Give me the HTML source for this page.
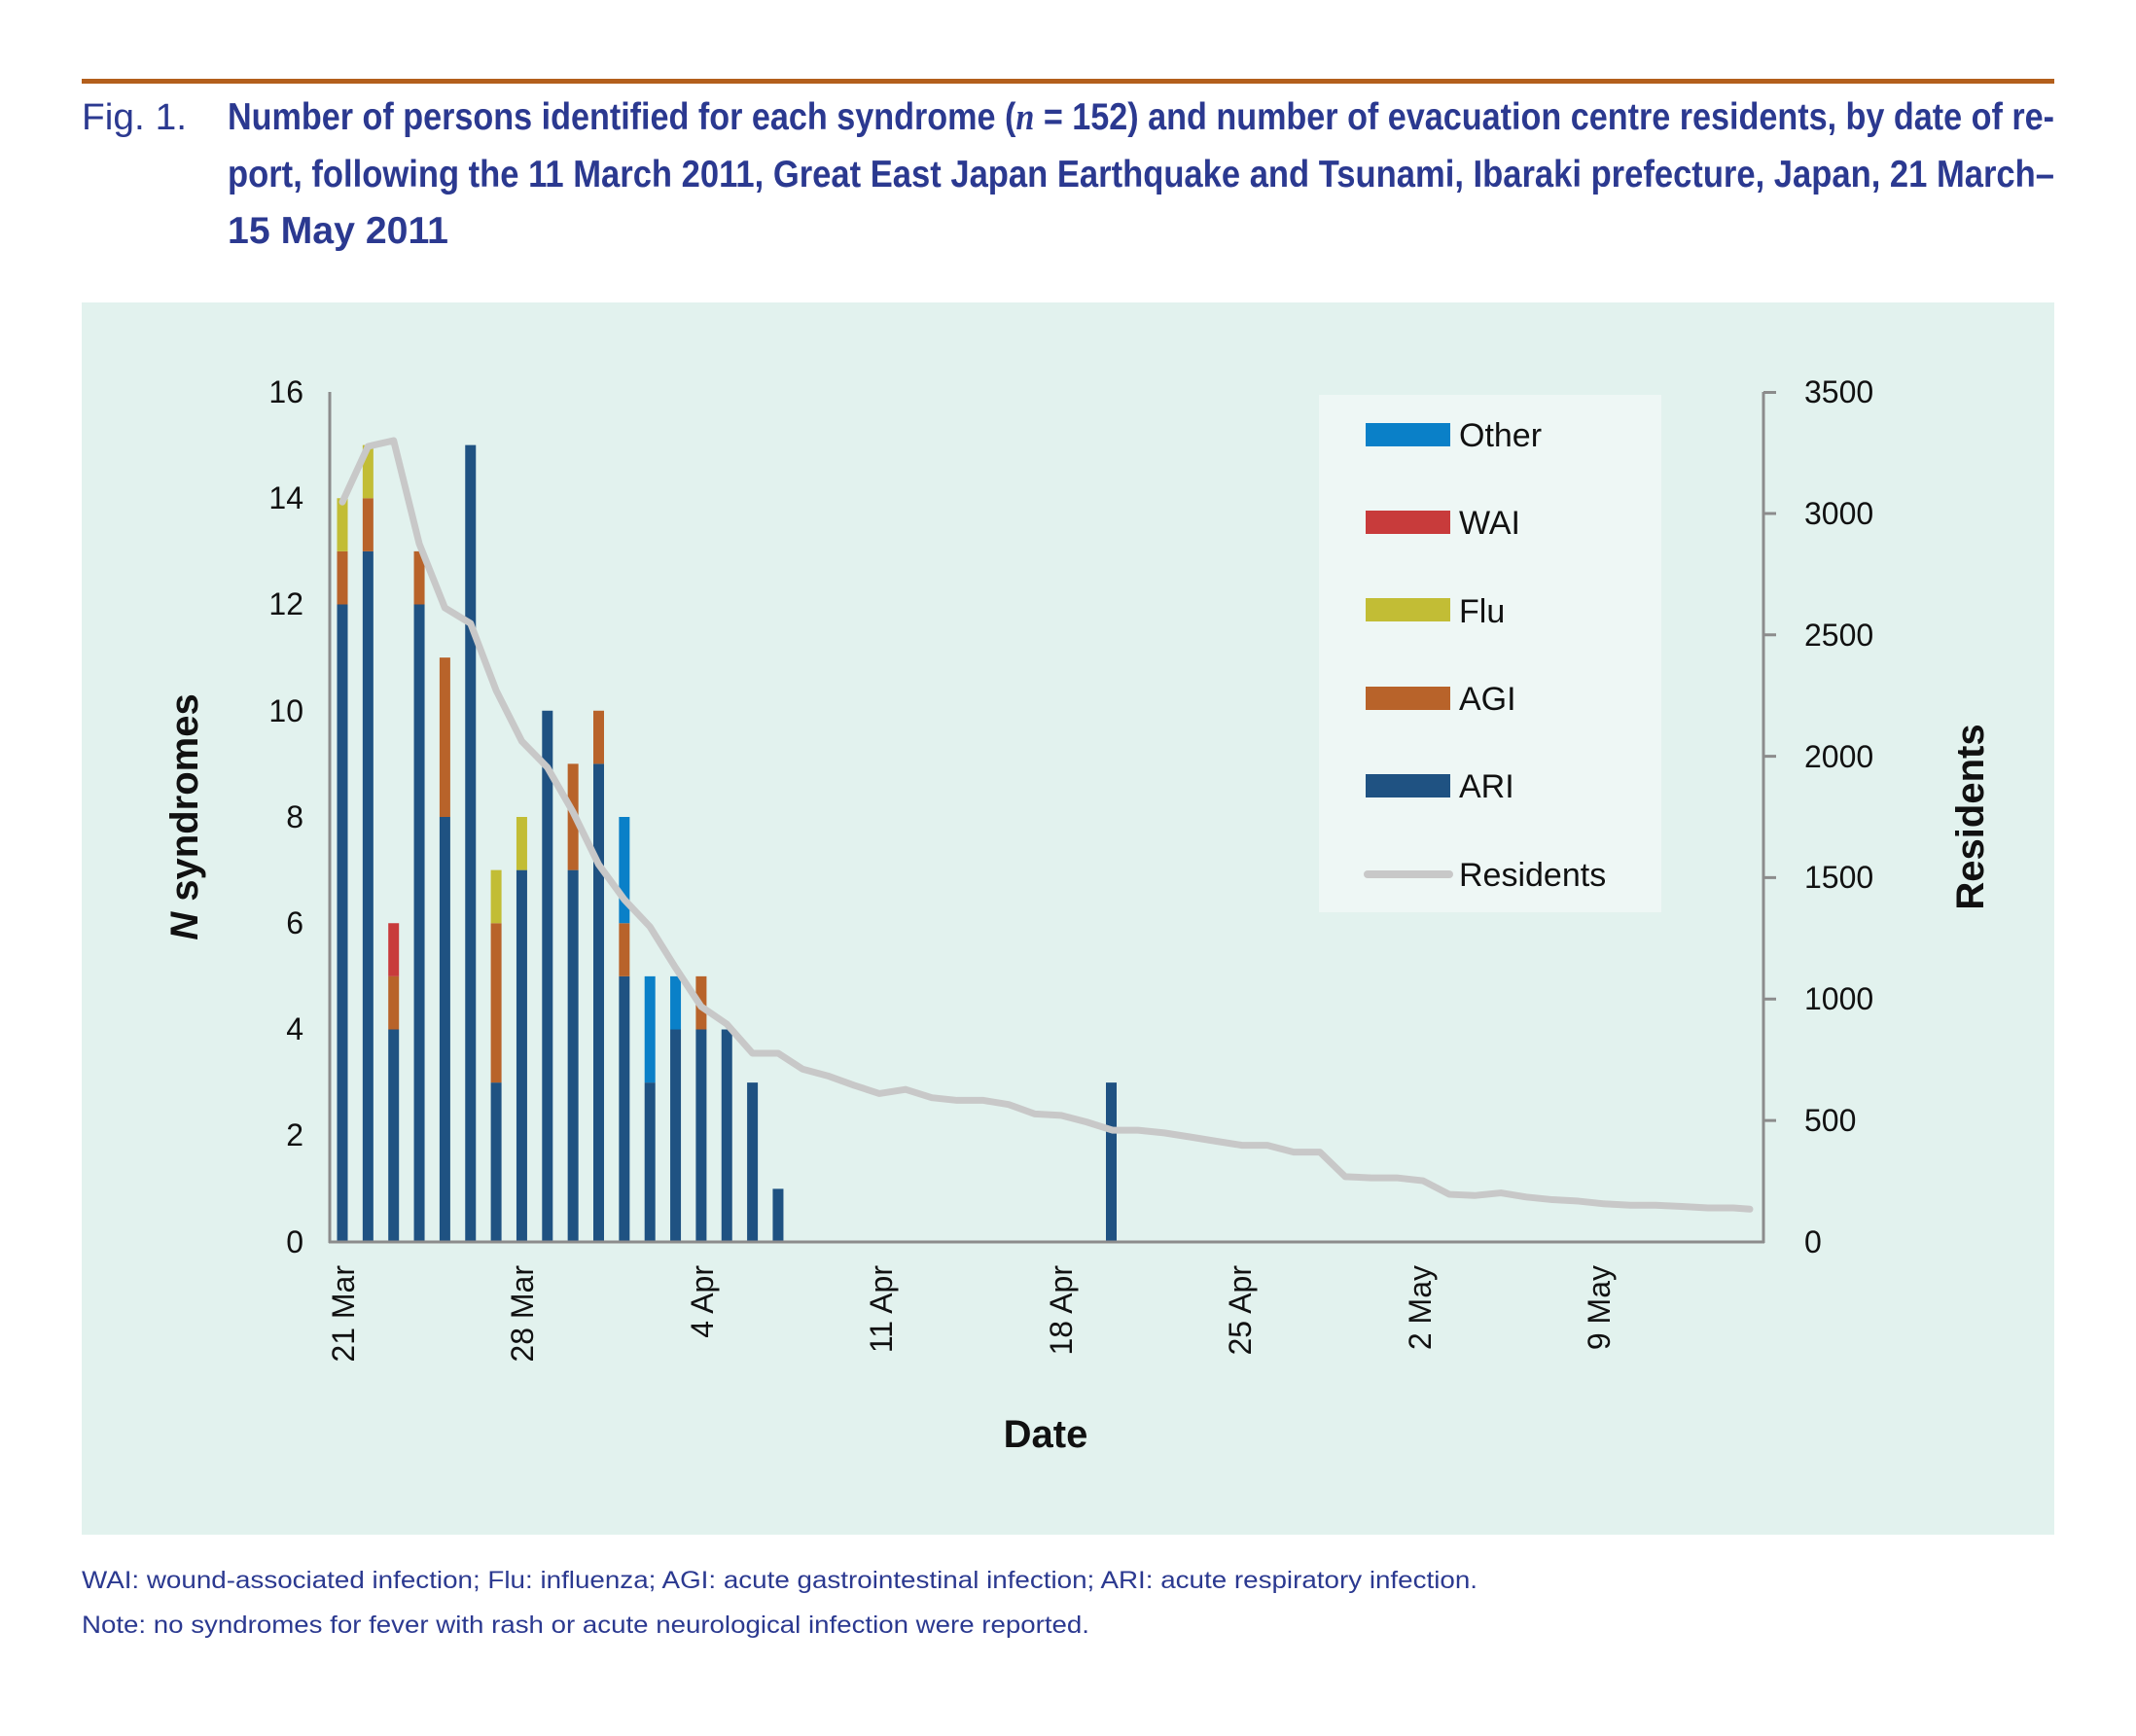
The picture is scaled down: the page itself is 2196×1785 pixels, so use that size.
<!DOCTYPE html>
<html><head><meta charset="utf-8"><style>html,body{margin:0;padding:0;background:#fff}svg{display:block}</style></head>
<body>
<svg width="2196" height="1785" viewBox="0 0 2196 1785" xmlns="http://www.w3.org/2000/svg" font-family="'Liberation Sans', sans-serif">
<rect x="0" y="0" width="2196" height="1785" fill="#fff"/>
<rect x="84" y="81" width="2028" height="5" fill="#b35f1c"/>
<text x="84" y="133" font-size="38" fill="#2b3990" textLength="108" lengthAdjust="spacingAndGlyphs">Fig. 1.</text>
<g font-size="39" font-weight="bold" fill="#2b3990">
<text x="234" y="133" textLength="1878" lengthAdjust="spacingAndGlyphs">Number of persons identified for each syndrome (<tspan font-style="italic" font-family="'Liberation Serif', serif">n</tspan> = 152) and number of evacuation centre residents, by date of re-</text>
<text x="234" y="192" textLength="1878" lengthAdjust="spacingAndGlyphs">port, following the 11 March 2011, Great East Japan Earthquake and Tsunami, Ibaraki prefecture, Japan, 21 March–</text>
<text x="234" y="250" textLength="227" lengthAdjust="spacingAndGlyphs">15 May 2011</text>
</g>
<rect x="84" y="311" width="2028" height="1267" fill="#e2f2ee"/>
<rect x="1356" y="406" width="352" height="532" fill="#eef7f5"/>
<g transform="translate(0,1277) scale(1,-54.625)">
<g fill="#1f5282">
<rect x="346.5" y="0" width="11" height="12"/>
<rect x="372.85" y="0" width="11" height="13"/>
<rect x="399.2" y="0" width="11" height="4"/>
<rect x="425.55" y="0" width="11" height="12"/>
<rect x="451.9" y="0" width="11" height="8"/>
<rect x="478.25" y="0" width="11" height="15"/>
<rect x="504.6" y="0" width="11" height="3"/>
<rect x="530.95" y="0" width="11" height="7"/>
<rect x="557.3" y="0" width="11" height="10"/>
<rect x="583.65" y="0" width="11" height="7"/>
<rect x="610" y="0" width="11" height="9"/>
<rect x="636.35" y="0" width="11" height="5"/>
<rect x="662.7" y="0" width="11" height="3"/>
<rect x="689.05" y="0" width="11" height="4"/>
<rect x="715.4" y="0" width="11" height="4"/>
<rect x="741.75" y="0" width="11" height="4"/>
<rect x="768.1" y="0" width="11" height="3"/>
<rect x="794.45" y="0" width="11" height="1"/>
<rect x="1137" y="0" width="11" height="3"/>
</g>
<g fill="#b8632a">
<rect x="346.5" y="12" width="11" height="1"/>
<rect x="372.85" y="13" width="11" height="1"/>
<rect x="399.2" y="4" width="11" height="1"/>
<rect x="425.55" y="12" width="11" height="1"/>
<rect x="451.9" y="8" width="11" height="3"/>
<rect x="504.6" y="3" width="11" height="3"/>
<rect x="583.65" y="7" width="11" height="2"/>
<rect x="610" y="9" width="11" height="1"/>
<rect x="636.35" y="5" width="11" height="1"/>
<rect x="715.4" y="4" width="11" height="1"/>
</g>
<g fill="#c2bd35">
<rect x="346.5" y="13" width="11" height="1"/>
<rect x="372.85" y="14" width="11" height="1"/>
<rect x="504.6" y="6" width="11" height="1"/>
<rect x="530.95" y="7" width="11" height="1"/>
</g>
<rect x="399.2" y="5" width="11" height="1" fill="#c83b3b"/>
<g fill="#0a80c8">
<rect x="636.35" y="6" width="11" height="2"/>
<rect x="662.7" y="3" width="11" height="2"/>
<rect x="689.05" y="4" width="11" height="1"/>
</g>
</g>
<polyline fill="none" stroke="#c8c8c8" stroke-width="7" stroke-linejoin="round" stroke-linecap="round" transform="translate(0,1277) scale(1,-0.2497)" vector-effect="non-scaling-stroke"
points="352,3047 378.35,3276 404.7,3300 431.05,2875 457.4,2611 483.75,2547 510.1,2271 536.45,2062 562.8,1954 589.15,1770 615.5,1554 641.85,1410 668.2,1298 694.55,1129 720.9,969 747.25,897 773.6,777 799.95,777 825,712 851,684 878,645 904,611 931,628 958,594 984,583 1011,583 1037,566 1064,527 1091,521 1117,494 1144,460 1170,460 1197,449 1224,432 1250,415 1277,398 1303,398 1330,370 1357,370 1383,269 1410,264 1436,264 1463,252 1490,196 1516,191 1543,202 1569,185 1596,174 1623,168 1649,157 1676,151 1702,151 1729,146 1756,140 1782,140 1799,135"/>
<g stroke="#8c8c8c" stroke-width="3" fill="none">
<line x1="339" y1="403" x2="339" y2="1278"/>
<line x1="338" y1="1277" x2="1814" y2="1277"/>
<line x1="1813" y1="403" x2="1813" y2="1278"/>
<path d="M1813 403.5h13M1813 528h13M1813 652.7h13M1813 777.6h13M1813 902.4h13M1813 1027.3h13M1813 1152.1h13"/>
</g>
<g font-size="32" fill="#111" text-anchor="end">
<text x="312" y="414">16</text>
<text x="312" y="523">14</text>
<text x="312" y="632">12</text>
<text x="312" y="742">10</text>
<text x="312" y="851">8</text>
<text x="312" y="960">6</text>
<text x="312" y="1069">4</text>
<text x="312" y="1178">2</text>
<text x="312" y="1288">0</text>
</g>
<g font-size="32" fill="#111">
<text x="1855" y="414">3500</text>
<text x="1855" y="539">3000</text>
<text x="1855" y="664">2500</text>
<text x="1855" y="789">2000</text>
<text x="1855" y="913">1500</text>
<text x="1855" y="1038">1000</text>
<text x="1855" y="1163">500</text>
<text x="1855" y="1288">0</text>
</g>
<g font-size="32" fill="#111" text-anchor="end">
<text transform="translate(364,1301) rotate(-90)">21 Mar</text>
<text transform="translate(548,1301) rotate(-90)">28 Mar</text>
<text transform="translate(733,1301) rotate(-90)">4 Apr</text>
<text transform="translate(917,1301) rotate(-90)">11 Apr</text>
<text transform="translate(1102,1301) rotate(-90)">18 Apr</text>
<text transform="translate(1286,1301) rotate(-90)">25 Apr</text>
<text transform="translate(1471,1301) rotate(-90)">2 May</text>
<text transform="translate(1655,1301) rotate(-90)">9 May</text>
</g>
<g font-size="40" font-weight="bold" fill="#111" text-anchor="middle">
<text transform="translate(203,840) rotate(-90)"><tspan font-style="italic">N</tspan> syndromes</text>
<text transform="translate(2039,840) rotate(-90)">Residents</text>
<text x="1075" y="1488">Date</text>
</g>
<rect x="1404" y="435" width="87" height="24" fill="#0a80c8"/>
<rect x="1404" y="525" width="87" height="24" fill="#c83b3b"/>
<rect x="1404" y="615" width="87" height="24" fill="#c2bd35"/>
<rect x="1404" y="706" width="87" height="24" fill="#b8632a"/>
<rect x="1404" y="796" width="87" height="24" fill="#1f5282"/>
<line x1="1406" y1="899" x2="1490" y2="899" stroke="#c8c8c8" stroke-width="8" stroke-linecap="round"/>
<g font-size="34" fill="#111">
<text x="1500" y="459">Other</text>
<text x="1500" y="549">WAI</text>
<text x="1500" y="640">Flu</text>
<text x="1500" y="730">AGI</text>
<text x="1500" y="820">ARI</text>
<text x="1500" y="911">Residents</text>
</g>
<g font-size="25" fill="#2b3990">
<text x="84" y="1633" textLength="1435" lengthAdjust="spacingAndGlyphs">WAI: wound-associated infection; Flu: influenza; AGI: acute gastrointestinal infection; ARI: acute respiratory infection.</text>
<text x="84" y="1679" textLength="1036" lengthAdjust="spacingAndGlyphs">Note: no syndromes for fever with rash or acute neurological infection were reported.</text>
</g>
</svg>
</body></html>
